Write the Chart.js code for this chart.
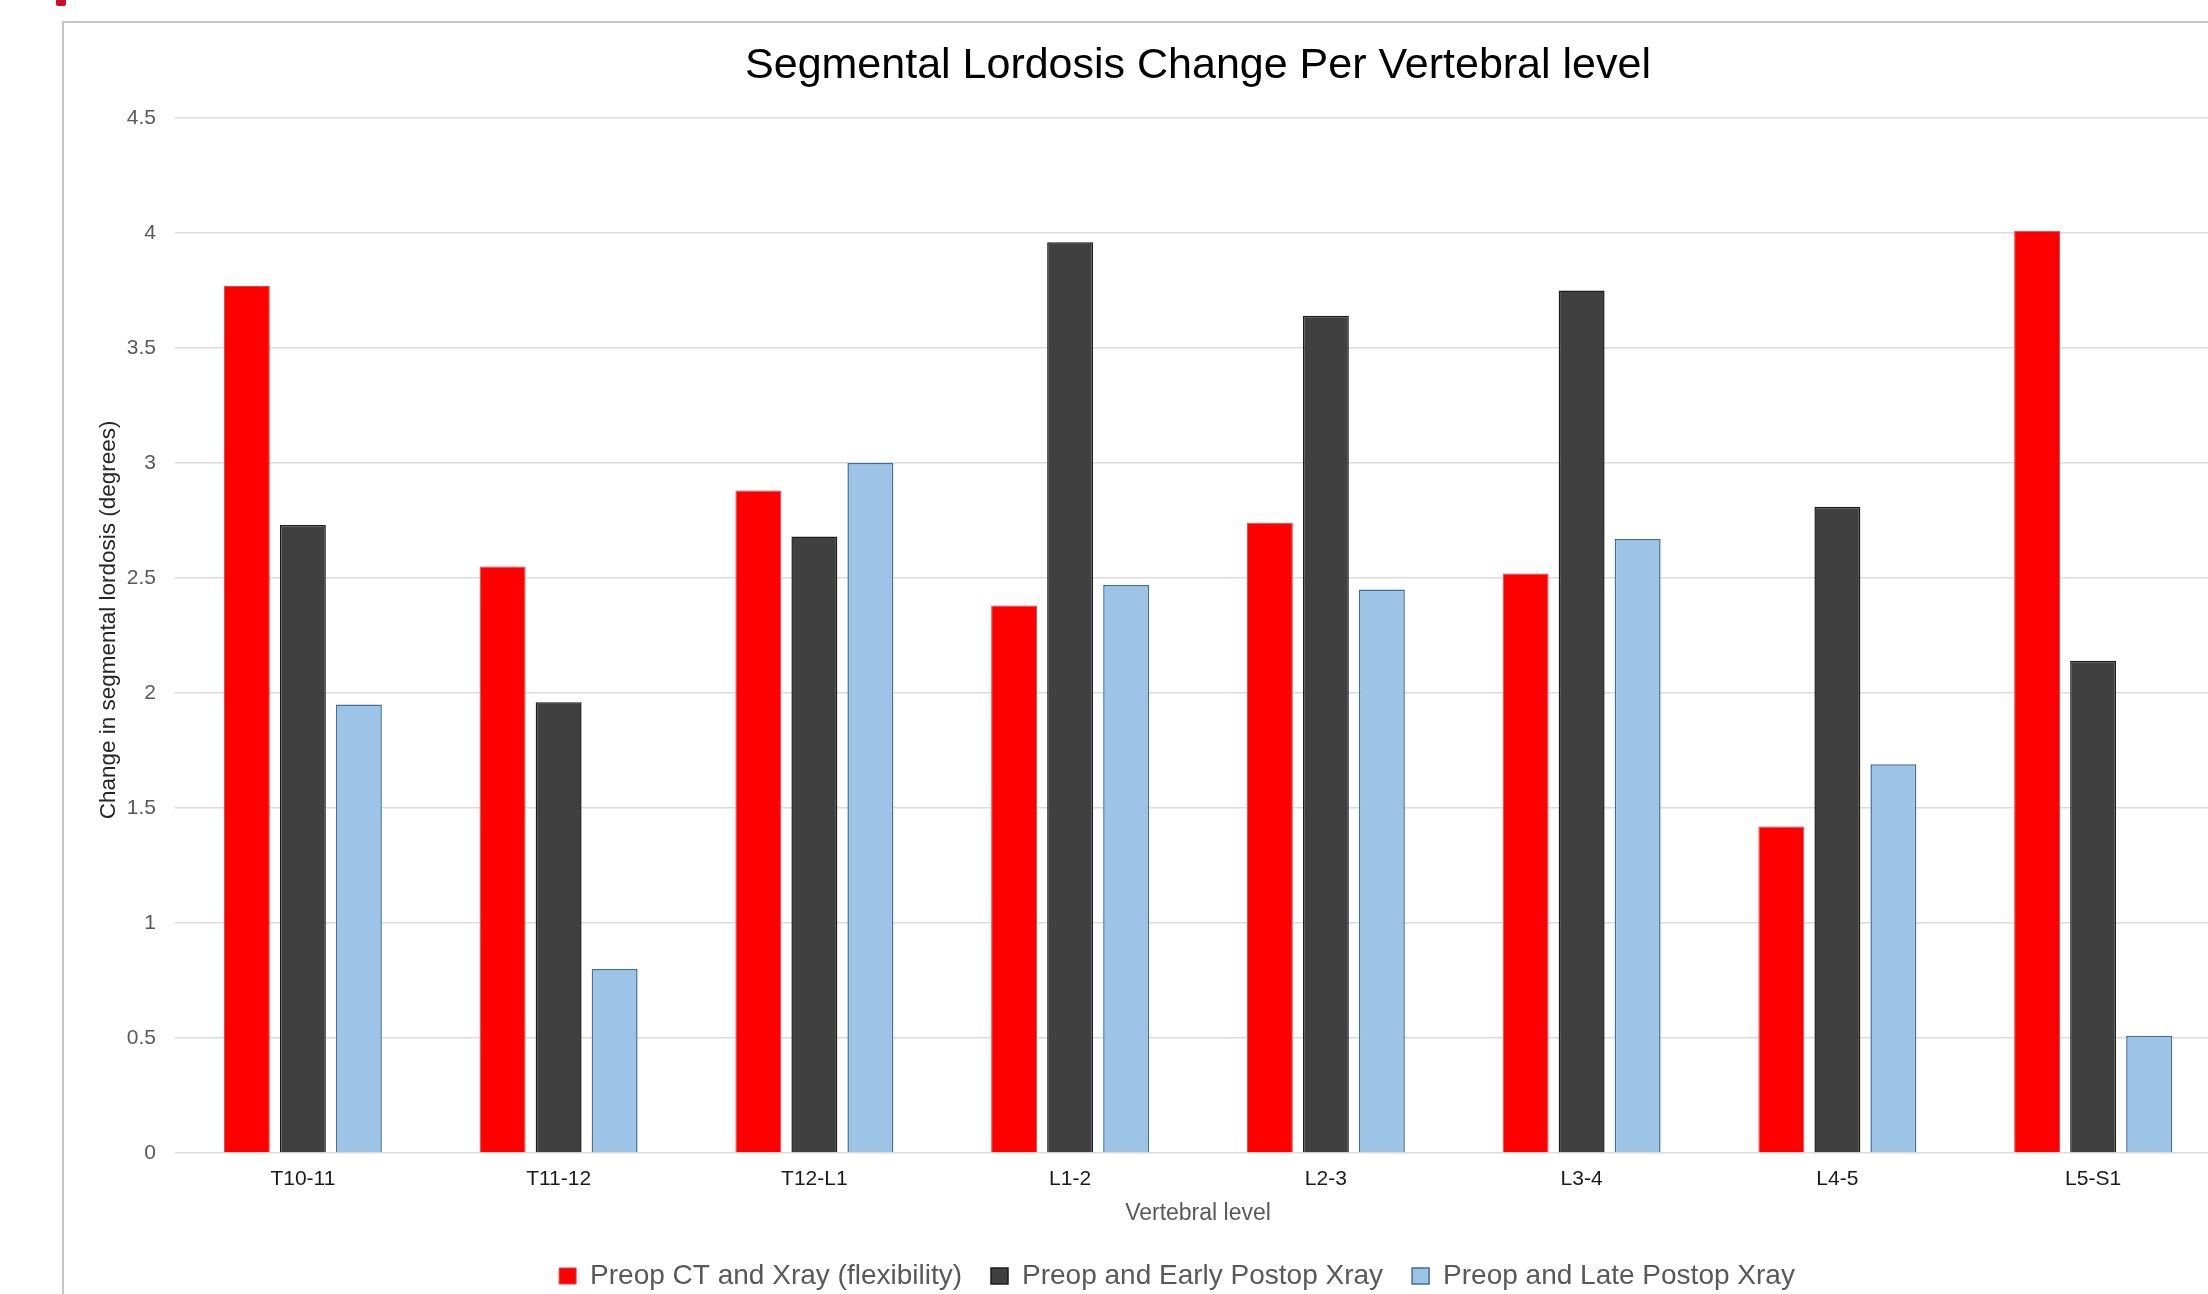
<!DOCTYPE html>
<html>
<head>
<meta charset="utf-8">
<script src="https://cdn.jsdelivr.net/npm/chart.js@4.4.1/dist/chart.umd.min.js"></script>
<style>
  html, body { margin: 0; padding: 0; background: #ffffff; width: 2208px; height: 1294px; overflow: hidden; }
  #frame { position: absolute; left: 62px; top: 21px; width: 2400px; height: 1400px; border-left: 2px solid #c4c4c4; border-top: 2px solid #c4c4c4; box-sizing: border-box; }
  #mark { position: absolute; left: 56px; top: -4px; width: 10px; height: 10px; border-radius: 2px; background: #c8102e; }
  #chart { position: absolute; left: 64px; top: 23px; }
</style>
</head>
<body>
<div id="mark"></div>
<div id="frame"></div>
<canvas id="chart" width="2226" height="1277"></canvas>
<script>
const categories = ['T10-11', 'T11-12', 'T12-L1', 'L1-2', 'L2-3', 'L3-4', 'L4-5', 'L5-S1'];
const seriesNames = ['Preop CT and Xray (flexibility)', 'Preop and Early Postop Xray', 'Preop and Late Postop Xray'];
const preopCT = [3.77, 2.55, 2.88, 2.38, 2.74, 2.52, 1.42, 4.01];
const earlyPostop = [2.73, 1.96, 2.68, 3.96, 3.64, 3.75, 2.81, 2.14];
const latePostop = [1.95, 0.80, 3.00, 2.47, 2.45, 2.67, 1.69, 0.51];
const yMin = 0, yMax = 4.5, yStep = 0.5;

const FONT = "'Liberation Sans', Arial, Helvetica, sans-serif";

new Chart(document.getElementById('chart'), {
  type: 'bar',
  data: {
    labels: categories,
    datasets: [
      { label: seriesNames[0], data: preopCT, backgroundColor: '#ff0000', borderColor: '#d24a4a', borderWidth: 1 },
      { label: seriesNames[1], data: earlyPostop, backgroundColor: '#404040', borderColor: '#1c1c1c', borderWidth: 1.5 },
      { label: seriesNames[2], data: latePostop, backgroundColor: '#9dc3e6', borderColor: '#3f6f9c', borderWidth: 1.5 }
    ]
  },
  options: {
    responsive: false,
    animation: false,
    devicePixelRatio: 1,
    categoryPercentage: 0.657,
    barPercentage: 0.82,
    layout: { padding: 0 },
    plugins: {
      tooltip: { enabled: false },
      title: {
        display: true,
        text: 'Segmental Lordosis Change Per Vertebral level',
        fullSize: false,
        color: '#000000',
        font: { family: FONT, size: 43, weight: 'normal' },
        padding: { top: 17.6, bottom: 25.8 }
      },
      legend: {
        display: true,
        position: 'bottom',
        labels: {
          color: '#595959',
          font: { family: FONT, size: 28 },
          boxWidth: 17,
          boxHeight: 16,
          padding: 29
        }
      }
    },
    scales: {
      x: {
        grid: { display: false },
        border: { display: false },
        ticks: { color: '#1a1a1a', font: { family: FONT, size: 21 }, padding: 5.5, maxRotation: 0 },
        title: {
          display: true,
          text: 'Vertebral level',
          color: '#595959',
          font: { family: FONT, size: 23 },
          padding: { top: 4, bottom: 6 }
        },
        afterFit: s => { s.height = 80; }
      },
      y: {
        min: yMin,
        max: yMax,
        grid: { color: '#dcdcdc', lineWidth: 1.5, drawTicks: false },
        border: { display: false },
        ticks: {
          stepSize: yStep,
          color: '#595959',
          font: { family: FONT, size: 21 },
          padding: 19,
          callback: v => String(v)
        },
        title: {
          display: true,
          text: '     Change in segmental lordosis (degrees)',
          color: '#262626',
          font: { family: FONT, size: 22.5 },
          padding: { top: 31, bottom: 4 }
        },
        afterFit: s => { s.width = 111; }
      },
      y2: {
        type: 'linear',
        position: 'right',
        display: true,
        grid: { display: false, drawTicks: false },
        border: { display: false },
        ticks: { display: false },
        afterFit: s => { s.width = 69; }
      }
    }
  }
});
</script>
</body>
</html>
